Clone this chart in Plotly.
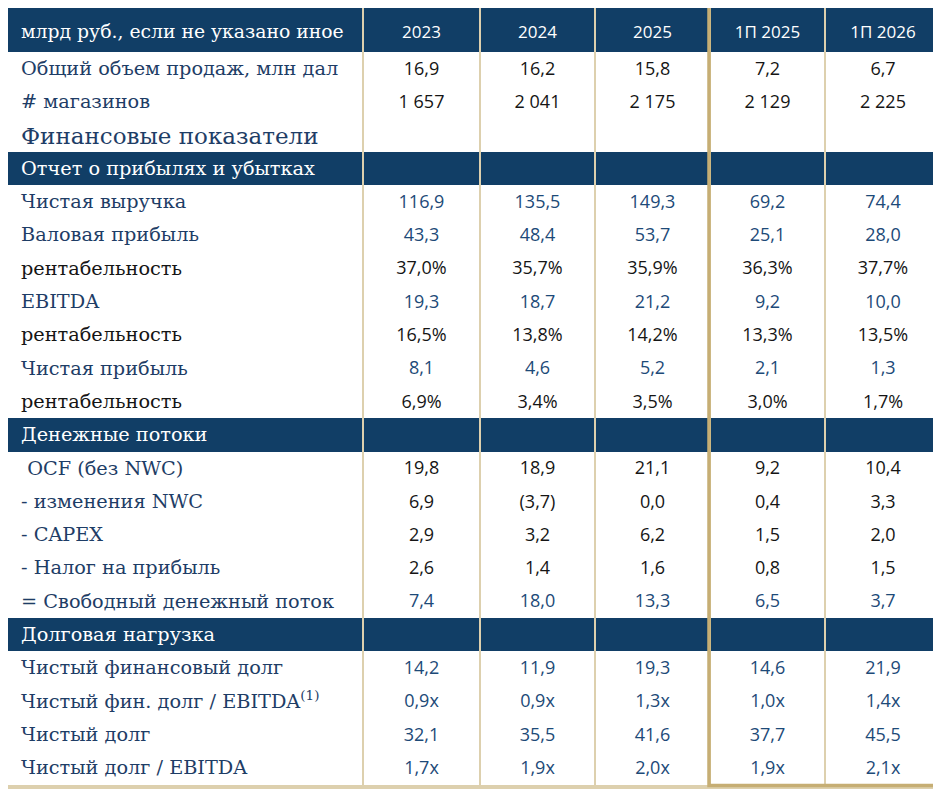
import plotly.graph_objects as go

# --- данные таблицы ---
columns = ["2023", "2024", "2025", "1П 2025", "1П 2026"]
header_label = "млрд руб., если не указано иное"

row_labels = [
    "Общий объем продаж, млн дал",
    "# магазинов",
    "Финансовые показатели",
    "Отчет о прибылях и убытках",
    "Чистая выручка",
    "Валовая прибыль",
    "рентабельность",
    "EBITDA",
    "рентабельность",
    "Чистая прибыль",
    "рентабельность",
    "Денежные потоки",
    " OCF (без NWC)",
    "- изменения NWC",
    "- CAPEX",
    "- Налог на прибыль",
    "= Свободный денежный поток",
    "Долговая нагрузка",
    "Чистый финансовый долг",
    "Чистый фин. долг / EBITDA<sup>(1)</sup>",
    "Чистый долг",
    "Чистый долг / EBITDA",
]
# тип строки: v = обычная, m = рентабельность, t = заголовок блока, s = секция
row_kind = ["v", "v", "t", "s", "v", "v", "m", "v", "m", "v", "m",
            "s", "v", "v", "v", "v", "v", "s", "v", "v", "v", "v"]
# цвет значений: b = синий, k = чёрный
value_tone = ["k", "k", "", "", "b", "b", "k", "b", "k", "b", "k",
              "", "k", "k", "k", "k", "b", "", "b", "b", "b", "b"]

v2023 = ["16,9", "1 657", "", "", "116,9", "43,3", "37,0%", "19,3", "16,5%", "8,1", "6,9%",
         "", "19,8", "6,9", "2,9", "2,6", "7,4", "", "14,2", "0,9x", "32,1", "1,7x"]
v2024 = ["16,2", "2 041", "", "", "135,5", "48,4", "35,7%", "18,7", "13,8%", "4,6", "3,4%",
         "", "18,9", "(3,7)", "3,2", "1,4", "18,0", "", "11,9", "0,9x", "35,5", "1,9x"]
v2025 = ["15,8", "2 175", "", "", "149,3", "53,7", "35,9%", "21,2", "14,2%", "5,2", "3,5%",
         "", "21,1", "0,0", "6,2", "1,6", "13,3", "", "19,3", "1,3x", "41,6", "2,0x"]
v1h2025 = ["7,2", "2 129", "", "", "69,2", "25,1", "36,3%", "9,2", "13,3%", "2,1", "3,0%",
           "", "9,2", "0,4", "1,5", "0,8", "6,5", "", "14,6", "1,0x", "37,7", "1,9x"]
v1h2026 = ["6,7", "2 225", "", "", "74,4", "28,0", "37,7%", "10,0", "13,5%", "1,3", "1,7%",
           "", "10,4", "3,3", "2,0", "1,5", "3,7", "", "21,9", "1,4x", "45,5", "2,1x"]
values = [v2023, v2024, v2025, v1h2025, v1h2026]

# --- геометрия (пиксели) ---
W, H = 941, 789
OFF = 8  # отступ body в странице
col_edges = [7, 363, 480, 595, 710, 825, 941]
top, header_h, row_h = 5, 47, 33.3
row_edges = [top, top + header_h] + [top + header_h + row_h * (i + 1) for i in range(len(row_labels))]
text_dy = [3 if k == "t" else 1.5 for k in row_kind]
row_mid = [(row_edges[i + 1] + row_edges[i + 2]) / 2 + text_dy[i] for i in range(len(row_labels))]
head_mid = (row_edges[0] + row_edges[1]) / 2 + 5
col_mid = [(col_edges[i] + col_edges[i + 1]) / 2 for i in range(1, len(col_edges) - 1)]
label_x = col_edges[0] + 14

NAVY = "#113e66"
BLUE = "#1d4a78"
LBLUE = "#1e3d66"
BLACK = "#151515"
BEIGE = "#ddd0ae"
GOLD = "#c6ae74"
SERIF = "DejaVu Serif"
SANS = "Open Sans"

# заливка ячеек: 1 = тёмная полоса, 0 = белая
z = [[1] * 6]
for k in row_kind:
    z.append([1 if k == "s" else 0] * 6)

fig = go.Figure()
fig.add_trace(go.Heatmap(
    x=col_edges, y=row_edges, z=z,
    colorscale=[[0, "white"], [1, NAVY]], zmin=0, zmax=1,
    xgap=2, ygap=0, showscale=False, hoverinfo="skip",
))


def text_trace(xs, ys, texts, color, size, family, pos):
    fig.add_trace(go.Scatter(
        x=xs, y=ys, text=texts, mode="text", textposition=pos,
        textfont=dict(color=color, size=size, family=family),
        hoverinfo="skip", showlegend=False,
    ))


# подписи строк
groups = {"v": ([], [], []), "m": ([], [], []), "t": ([], [], []), "s": ([], [], [])}
for lab, kind, y in zip(row_labels, row_kind, row_mid):
    g = groups[kind]
    g[0].append(label_x)
    g[1].append(y)
    g[2].append(lab)
text_trace(*groups["v"], LBLUE, 19.3, SERIF, "middle right")
text_trace(*groups["m"], BLACK, 19.3, SERIF, "middle right")
text_trace(*groups["t"], LBLUE, 23, SERIF, "middle right")
text_trace(*groups["s"], "white", 19.3, SERIF, "middle right")
text_trace([label_x], [head_mid], [header_label], "white", 18.8, SERIF, "middle right")

# заголовки колонок
text_trace(col_mid, [head_mid] * len(columns), columns, "white", 17, SANS, "middle center")

# значения
for cx, col in zip(col_mid, values):
    for tone, color in (("b", BLUE), ("k", BLACK)):
        idx = [i for i, t in enumerate(value_tone) if t == tone]
        text_trace([cx] * len(idx), [row_mid[i] for i in idx], [col[i] for i in idx],
                   color, 18, SANS, "middle center")

# золотая рамка вокруг полугодовых колонок
fig.add_shape(type="rect", xref="x", yref="y",
              x0=col_edges[4] - 1, x1=col_edges[6] - 3, y0=top - 1, y1=row_edges[-1] + 1,
              line=dict(color=GOLD, width=3.5))

fig.update_layout(
    width=W, height=H,
    margin=dict(l=0, r=0, t=0, b=0),
    paper_bgcolor="#efe8d8", plot_bgcolor=BEIGE,
    xaxis=dict(range=[OFF, W + OFF], visible=False, fixedrange=True),
    yaxis=dict(range=[H + OFF, OFF], visible=False, fixedrange=True),
    showlegend=False,
)

fig.write_html("out.html")
